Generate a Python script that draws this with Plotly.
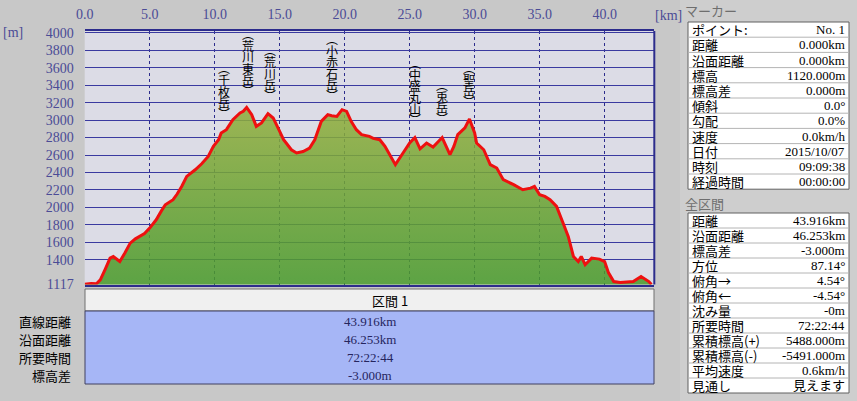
import plotly.graph_objects as go

W, H = 857, 401

# elevation profile: horizontal distance (km) vs elevation (m)
distance_km = [
    0.0, 0.5, 0.9, 1.2, 1.6, 1.95, 2.2, 2.5, 2.7, 3.1, 3.5, 3.9, 4.25, 4.6,
    5.0, 5.5, 5.9, 6.2, 6.8, 7.1, 7.46, 7.85, 8.5, 9.0, 9.5, 9.9, 10.3, 10.5,
    10.9, 11.4, 11.95, 12.2, 12.46, 12.85, 13.2, 13.6, 14.1, 14.5, 15.0, 15.3,
    15.5, 15.9, 16.3, 16.8, 17.3, 17.7, 18.2, 18.7, 19.0, 19.4, 19.8, 20.15,
    20.5, 20.9, 21.3, 21.9, 22.2, 22.7, 23.1, 23.5, 23.9, 24.4, 24.8, 25.0,
    25.4, 25.8, 26.3, 26.8, 27.5, 28.1, 28.4, 28.7, 29.25, 29.6, 30.0, 30.15,
    30.7, 31.2, 31.7, 32.2, 33.0, 33.7, 34.3, 34.6, 35.0, 35.4, 35.8, 36.3,
    36.8, 37.2, 37.6, 37.97, 38.2, 38.5, 39.0, 39.6, 40.0, 40.3, 40.7, 41.2,
    42.2, 42.8, 43.4, 43.6,
]
elevation_m = [
    1120, 1128, 1125, 1171, 1300, 1419, 1438, 1400, 1380, 1480, 1591, 1640,
    1667, 1700, 1763, 1858, 1960, 2030, 2088, 2150, 2240, 2355, 2431, 2500,
    2584, 2699, 2775, 2852, 2890, 3005, 3081, 3100, 3145, 3062, 2928, 2967,
    3073, 3024, 2870, 2775, 2737, 2660, 2623, 2640, 2680, 2775, 2985, 3062,
    3050, 3042, 3119, 3100, 2985, 2890, 2833, 2813, 2790, 2775, 2699, 2600,
    2489, 2603, 2699, 2737, 2800, 2670, 2737, 2690, 2800, 2603, 2699, 2833,
    2910, 3013, 2852, 2737, 2660, 2489, 2451, 2317, 2260, 2202, 2220, 2240,
    2145, 2126, 2088, 2011, 1821, 1667, 1438, 1380, 1438, 1343, 1419, 1408,
    1380, 1250, 1151, 1140, 1151, 1209, 1151, 1117,
]

peak_names = ["千枚岳", "荒川東岳", "荒川岳", "小赤石岳", "中盛丸山", "兎岳", "聖岳"]
peak_km = [10.7, 12.55, 14.25, 19.0, 25.4, 27.5, 29.6]
peak_elev = [2880, 3141, 3083, 3081, 2807, 2818, 3013]

x_ticks = [0, 5, 10, 15, 20, 25, 30, 35, 40]
x_ticktext = ["0.0", "5.0", "10.0", "15.0", "20.0", "25.0", "30.0", "35.0", "40.0"]
y_ticks = [1117, 1400, 1600, 1800, 2000, 2200, 2400, 2600, 2800, 3000,
           3200, 3400, 3600, 3800, 4000]

marker_labels = ["ポイント:", "距離", "沿面距離", "標高", "標高差", "傾斜", "勾配",
                 "速度", "日付", "時刻", "経過時間"]
marker_values = ["No. 1", "0.000km", "0.000km", "1120.000m", "0.000m", "0.0°",
                 "0.0%", "0.0km/h", "2015/10/07", "09:09:38", "00:00:00"]

total_labels = ["距離", "沿面距離", "標高差", "方位", "俯角→", "俯角←", "沈み量",
                "所要時間", "累積標高(+)", "累積標高(-)", "平均速度", "見通し"]
total_values = ["43.916km", "46.253km", "-3.000m", "87.14°", "4.54°", "-4.54°",
                "-0m", "72:22:44", "5488.000m", "-5491.000m", "0.6km/h", "見えます"]

section_title = "区間 1"
section_labels = ["直線距離", "沿面距離", "所要時間", "標高差"]
section_values = ["43.916km", "46.253km", "72:22:44", "-3.000m"]

BG = "#c8c8c8"
NAVY = "#2c2c8c"
TICK = "#4b4b96"
SERIF = "Liberation Serif, Noto Sans CJK JP"
GOTHIC = "Noto Sans CJK JP"


def px(x):
    return x / W


def py(y):
    return 1 - y / H


fig = go.Figure()
fig.add_trace(go.Scatter(
    x=distance_km, y=elevation_m,
    mode="lines",
    line=dict(color="#ee1010", width=3),
    fill="tozeroy",
    fillgradient=dict(
        type="vertical",
        colorscale=[[0, "rgba(72,154,42,0.86)"], [1, "rgba(146,174,60,0.86)"]],
        start=1117, stop=3150,
    ),
    hoverinfo="skip",
    showlegend=False,
))

shapes = []
annotations = []


def text(x, y, s, size=13, color="black", family=GOTHIC, xanchor="left"):
    annotations.append(dict(
        x=px(x), y=py(y), xref="paper", yref="paper", text=s, showarrow=False,
        xanchor=xanchor, yanchor="middle",
        font=dict(size=size, color=color, family=family),
    ))


def rect(x0, y0, x1, y1, fill, line="rgba(0,0,0,0)", width=1):
    shapes.append(dict(
        type="rect", xref="paper", yref="paper",
        x0=px(x0), x1=px(x1), y0=py(y1), y1=py(y0),
        fillcolor=fill, line=dict(color=line, width=width), layer="below",
    ))


def hline(x0, x1, y, color, width=1):
    shapes.append(dict(
        type="line", xref="paper", yref="paper",
        x0=px(x0), x1=px(x1), y0=py(y), y1=py(y),
        line=dict(color=color, width=width),
    ))


# plot frame: right edge (top/bottom come from the x axis lines)
shapes.append(dict(type="line", xref="x domain", yref="y domain",
                   x0=1, x1=1, y0=0, y1=1, line=dict(color=NAVY, width=2)))

# axis unit labels
text(13, 32, "[m]", size=14, color=TICK, family=SERIF, xanchor="center")
text(668, 16, "[km]", size=14, color=TICK, family=SERIF, xanchor="center")

# vertical peak labels stacked char by char above each summit
for name, km, elev in zip(peak_names, peak_km, peak_elev):
    n = len(name)
    last = 28
    offsets = [last + 11.5 * (n - 1 - i) for i in range(n)]
    chars = ["︵"] + list(name) + ["︶"]
    offsets = [offsets[0] + 12] + offsets + [last - 11]
    for ch, off in zip(chars, offsets):
        annotations.append(dict(
            x=km, y=elev, xref="x", yref="y", text=ch, showarrow=False,
            xanchor="center", yanchor="middle", yshift=off,
            font=dict(size=12, color="black", family=GOTHIC),
        ))

# section table under the profile
rect(85, 289, 654, 311, "#f0f0f0", line="#707070")
rect(85, 311, 654, 384, "#a6b6f6", line="#404060")
text(370, 300, section_title, size=13)
for i, (lab, val) in enumerate(zip(section_labels, section_values)):
    yc = 321 + 18 * i
    text(73, yc, lab, size=13, xanchor="right")
    text(370, yc, val, size=13, color="#25255e", family=SERIF, xanchor="center")

# right side panel
rect(680, 0, 857, 401, "#cecece")
text(683, 10, "マーカー", size=13, color="#6e6e6e")
text(683, 203, "全区間", size=13, color="#6e6e6e")


def info_table(top, labels, values, row_h):
    bottom = top + row_h * len(labels)
    rect(688, top, 849, bottom, "white", line="#606060")
    for i, (lab, val) in enumerate(zip(labels, values)):
        yc = top + row_h * (i + 0.5)
        if i > 0:
            hline(688, 849, top + row_h * i, "#b4b4b4")
        text(690, yc, lab, size=13)
        text(847, yc, val, size=13, family=SERIF, xanchor="right")


info_table(22, marker_labels, marker_values, 15.2)
info_table(213, total_labels, total_values, 15.0)

fig.update_layout(
    width=W, height=H,
    margin=dict(l=0, r=0, t=0, b=0),
    paper_bgcolor=BG,
    plot_bgcolor="#dcdce6",
    showlegend=False,
    shapes=shapes,
    annotations=annotations,
    xaxis=dict(
        domain=[px(84.7), px(654.3)],
        range=[0, 43.82],
        side="top",
        tickvals=x_ticks, ticktext=x_ticktext,
        tickfont=dict(size=14, color=TICK, family=SERIF),
        ticks="", ticklabelstandoff=4,
        showgrid=True, gridcolor=NAVY, griddash="dot", gridwidth=1,
        showline=True, linecolor=NAVY, linewidth=2, mirror=True,
        zeroline=False, fixedrange=True, automargin=False,
    ),
    yaxis=dict(
        domain=[py(284.5), py(31)],
        range=[1117, 4020],
        tickvals=y_ticks,
        tickfont=dict(size=14, color=TICK, family=SERIF),
        ticks="", ticklabelstandoff=10,
        showgrid=True, gridcolor="#3a3aa0", gridwidth=1,
        showline=False, zeroline=False, fixedrange=True, automargin=False,
    ),
)

# page body has an 8px default margin; drop it so the figure fills the window
fig.write_html(
    "out.html",
    config={"displayModeBar": False},
    post_script="document.body.style.margin='0px';",
)
